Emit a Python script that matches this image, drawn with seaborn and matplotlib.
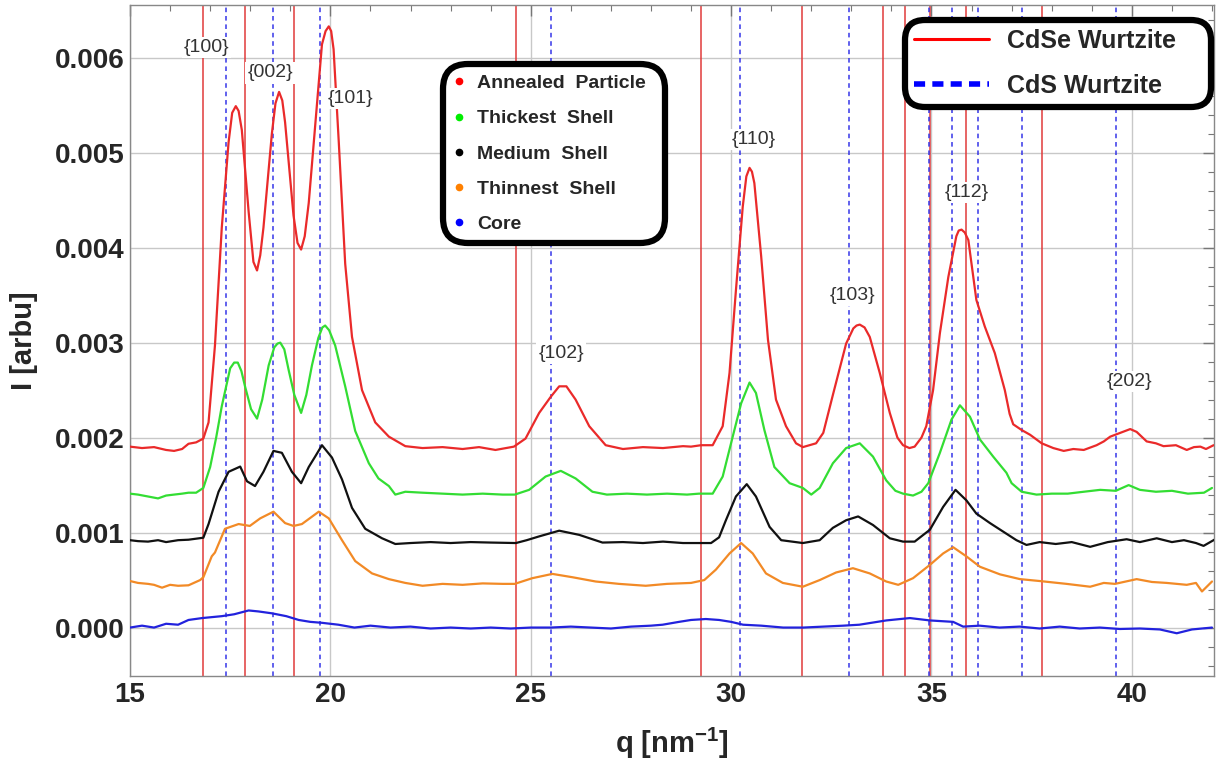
import numpy as np
import pandas as pd
import matplotlib
matplotlib.use("Agg")
import matplotlib.pyplot as plt
import seaborn as sns
from matplotlib.lines import Line2D
from matplotlib.ticker import MultipleLocator

# ---------------- data (I values in units of 1e-3 arbu) ----------------
I_UNIT = 1e-3

annealed_q = [15.0, 15.3, 15.6, 15.9, 16.1, 16.3, 16.46, 16.65, 16.83, 16.96, 17.12, 17.29, 17.46, 17.55,
              17.64, 17.71, 17.79, 17.96, 18.08, 18.17, 18.25, 18.33, 18.54, 18.63, 18.72, 18.80, 18.87,
              19.08, 19.18, 19.27, 19.36, 19.46, 19.67, 19.79, 19.88, 19.96, 20.02, 20.08, 20.21, 20.37,
              20.54, 20.79, 21.12, 21.46, 21.87, 22.3, 22.8, 23.3, 23.71, 24.12,
              24.58, 24.87, 25.21, 25.5, 25.71, 25.89, 26.12, 26.46, 26.87, 27.3, 27.8, 28.3, 28.8, 29.0,
              29.25, 29.54, 29.79, 29.96, 30.12, 30.29, 30.38, 30.46, 30.52, 30.58, 30.75, 30.92, 31.12,
              31.37, 31.62, 31.79, 32.12, 32.3, 32.54, 32.87, 33.05, 33.13, 33.21, 33.33, 33.46, 33.71,
              33.96, 34.15, 34.29, 34.45, 34.58, 34.75, 34.87, 35.04, 35.21, 35.42, 35.62, 35.68, 35.75,
              35.83, 35.92, 36.12, 36.33, 36.58, 36.83, 36.95, 37.04, 37.25, 37.46, 37.75, 38.04, 38.3,
              38.54, 38.8, 39.12, 39.3, 39.46, 39.71, 39.96, 40.12, 40.37, 40.6, 40.79, 41.1, 41.37,
              41.55, 41.71, 41.85, 42.04]
annealed_I = [1.905, 1.89, 1.90, 1.87, 1.86, 1.88, 1.935, 1.95, 1.99, 2.16, 2.97, 4.21, 5.11, 5.42,
              5.49, 5.44, 5.24, 4.38, 3.85, 3.76, 3.92, 4.21, 5.20, 5.52, 5.64, 5.55, 5.32,
              4.34, 4.05, 3.98, 4.12, 4.47, 5.54, 6.14, 6.28, 6.33, 6.28, 6.09, 5.11, 3.83,
              3.06, 2.50, 2.16, 2.01, 1.91, 1.89, 1.90, 1.88, 1.90, 1.87,
              1.905, 1.99, 2.26, 2.43, 2.54, 2.54, 2.40, 2.12, 1.92, 1.88, 1.90, 1.89, 1.91, 1.905,
              1.92, 1.92, 2.12, 2.68, 3.55, 4.43, 4.75, 4.84, 4.80, 4.68, 3.91, 3.03, 2.40,
              2.12, 1.94, 1.90, 1.94, 2.05, 2.45, 2.99, 3.15, 3.18, 3.19, 3.16, 3.06, 2.68,
              2.26, 2.00, 1.92, 1.89, 1.905, 2.00, 2.12, 2.50, 3.10, 3.69, 4.12, 4.18, 4.19,
              4.16, 4.08, 3.45, 3.17, 2.89, 2.50, 2.25, 2.14, 2.08, 2.03, 1.94, 1.89, 1.86,
              1.88, 1.87, 1.92, 1.96, 2.01, 2.05, 2.09, 2.06, 1.96, 1.94, 1.91, 1.92, 1.87,
              1.90, 1.905, 1.88, 1.92]

thickest_q = [15.0, 15.2, 15.45, 15.7, 15.9, 16.1, 16.3, 16.46, 16.65, 16.83, 17.0, 17.15, 17.29, 17.5,
              17.6, 17.69, 17.78, 17.87, 18.02, 18.17, 18.3, 18.46, 18.6, 18.68, 18.75, 18.85, 18.96,
              19.1, 19.27, 19.4, 19.54, 19.7, 19.8, 19.87, 19.97, 20.12, 20.37, 20.62, 20.96, 21.2,
              21.46, 21.62, 21.87, 22.3, 22.8, 23.3,
              23.8, 24.3, 24.6, 24.96, 25.37, 25.75, 26.12, 26.54, 26.9, 27.4, 27.9, 28.4, 28.9, 29.2,
              29.54, 29.79, 30.04, 30.25, 30.46, 30.62, 30.83, 31.08, 31.46, 31.79, 32.0, 32.21, 32.54,
              32.87, 33.21, 33.54, 33.87, 34.1, 34.29, 34.54, 34.75, 34.92, 35.21, 35.5, 35.71, 35.96,
              36.21, 36.54, 36.87, 37.0, 37.25, 37.62, 38.0, 38.4, 38.8, 39.21, 39.6, 39.92, 40.2,
              40.6, 41.0, 41.4, 41.8, 42.0]
thickest_I = [1.41, 1.40, 1.38, 1.36, 1.39, 1.40, 1.41, 1.42, 1.42, 1.47, 1.69, 2.00, 2.33, 2.73,
              2.79, 2.79, 2.70, 2.54, 2.30, 2.20, 2.40, 2.76, 2.95, 2.99, 3.00, 2.93, 2.71,
              2.45, 2.26, 2.45, 2.76, 3.05, 3.16, 3.18, 3.13, 2.97, 2.54, 2.07, 1.73, 1.57,
              1.49, 1.40, 1.43, 1.42, 1.41, 1.40,
              1.41, 1.40, 1.40, 1.45, 1.59, 1.65, 1.57, 1.43, 1.40, 1.41, 1.40, 1.41, 1.40, 1.41,
              1.41, 1.59, 2.01, 2.36, 2.58, 2.47, 2.08, 1.69, 1.52, 1.47, 1.40, 1.47, 1.73,
              1.89, 1.94, 1.80, 1.55, 1.44, 1.41, 1.39, 1.43, 1.52, 1.84, 2.19, 2.34, 2.22,
              1.98, 1.80, 1.63, 1.52, 1.43, 1.40, 1.41, 1.41, 1.43, 1.45, 1.44, 1.50, 1.45,
              1.43, 1.44, 1.41, 1.42, 1.47]

medium_q = [15.0, 15.2, 15.45, 15.7, 15.9, 16.2, 16.46, 16.83, 16.96, 17.21, 17.46, 17.75, 17.92, 18.12,
            18.33, 18.58, 18.79, 19.04, 19.27, 19.46, 19.62, 19.79, 20.04, 20.29, 20.54, 20.87, 21.29,
            21.62, 22.0, 22.5, 23.0, 23.5, 24.0, 24.63, 24.9, 25.21, 25.71, 26.21, 26.79, 27.3, 27.8,
            28.3, 28.8, 29.5, 29.7, 29.87, 30.12, 30.39, 30.62, 30.96, 31.25, 31.79, 32.21, 32.54,
            32.87, 33.17, 33.54, 33.96, 34.29, 34.58, 34.96, 35.29, 35.6, 35.87, 36.12, 36.46, 36.79,
            37.12, 37.37, 37.7, 38.1, 38.5, 38.96, 39.4, 39.87, 40.2, 40.62, 41.0, 41.3, 41.6, 41.79,
            42.08]
medium_I = [0.92, 0.91, 0.905, 0.92, 0.90, 0.92, 0.925, 0.946, 1.09, 1.43, 1.64, 1.695, 1.54, 1.49,
            1.64, 1.86, 1.84, 1.64, 1.52, 1.69, 1.80, 1.92, 1.79, 1.56, 1.26, 1.04, 0.94,
            0.88, 0.89, 0.90, 0.89, 0.90, 0.895, 0.89, 0.92, 0.96, 1.02, 0.976, 0.895, 0.90, 0.89,
            0.905, 0.89, 0.89, 0.95, 1.13, 1.38, 1.51, 1.38, 1.06, 0.92, 0.89, 0.92, 1.05,
            1.13, 1.17, 1.08, 0.94, 0.905, 0.905, 1.03, 1.27, 1.45, 1.34, 1.20, 1.10, 1.01,
            0.92, 0.87, 0.90, 0.88, 0.90, 0.85, 0.90, 0.93, 0.90, 0.94, 0.90, 0.92, 0.89, 0.86,
            0.93]

thinnest_q = [15.0, 15.2, 15.45, 15.6, 15.8, 16.0, 16.2, 16.46, 16.75, 16.83, 17.04, 17.12, 17.37, 17.71,
              17.99, 18.25, 18.58, 18.87, 19.08, 19.29, 19.71, 19.96, 20.29, 20.62, 21.04, 21.46, 21.87,
              22.3, 22.8, 23.3, 23.8, 24.3, 24.6, 25.04, 25.54, 26.04, 26.62, 27.2, 27.87, 28.4, 29.0,
              29.33, 29.62, 29.96, 30.25, 30.54, 30.87, 31.29, 31.79, 32.21, 32.62, 33.04, 33.46, 33.87,
              34.17, 34.54, 34.96, 35.29, 35.54, 35.87, 36.21, 36.71, 37.21, 37.7, 38.37, 38.96, 39.3,
              39.58, 40.12, 40.5, 40.87, 41.37, 41.6, 41.75, 42.0]
thinnest_I = [0.49, 0.47, 0.46, 0.45, 0.42, 0.45, 0.44, 0.445, 0.50, 0.53, 0.75, 0.79, 1.04, 1.09,
              1.07, 1.15, 1.22, 1.10, 1.07, 1.09, 1.22, 1.15, 0.92, 0.70, 0.57, 0.51, 0.47,
              0.44, 0.46, 0.45, 0.465, 0.46, 0.46, 0.52, 0.565, 0.53, 0.485, 0.46, 0.44, 0.46, 0.47,
              0.50, 0.61, 0.78, 0.89, 0.78, 0.57, 0.47, 0.43, 0.50, 0.58, 0.625, 0.57, 0.485,
              0.45, 0.52, 0.66, 0.78, 0.846, 0.75, 0.64, 0.56, 0.51, 0.49, 0.46, 0.43, 0.47,
              0.46, 0.51, 0.48, 0.47, 0.45, 0.47, 0.38, 0.485]

core_q = [15.0, 15.3, 15.6, 15.9, 16.2, 16.46, 16.8, 17.29, 17.6, 17.96, 18.2, 18.54, 18.9, 19.21, 19.5,
          19.79, 20.2, 20.6, 21.0, 21.5, 22.0, 22.5, 23.0, 23.5, 24.0, 24.5, 25.0, 25.5, 26.0, 26.5,
          27.0, 27.5, 28.0, 28.29, 28.7, 29.0, 29.37, 29.7, 30.0, 30.3, 30.75, 31.3, 31.8, 32.3, 32.8,
          33.2, 33.87, 34.46, 34.96, 35.54, 35.79, 36.2, 36.7, 37.2, 37.7, 38.2, 38.7, 39.2, 39.7,
          40.2, 40.7, 41.12, 41.5, 42.0]
core_I = [0.0, 0.02, 0.0, 0.04, 0.03, 0.08, 0.10, 0.12, 0.14, 0.18, 0.17, 0.15, 0.12, 0.08, 0.06,
          0.05, 0.03, 0.0, 0.02, 0.0, 0.01, -0.01, 0.0, -0.01, 0.0, -0.01, 0.0, 0.0, 0.01, 0.0,
          -0.01, 0.01, 0.02, 0.03, 0.06, 0.08, 0.09, 0.08, 0.06, 0.03, 0.02, 0.0, 0.0, 0.01, 0.02,
          0.03, 0.075, 0.10, 0.075, 0.06, 0.01, 0.02, 0.0, 0.01, -0.01, 0.01, -0.01, 0.0, -0.015,
          -0.01, -0.02, -0.06, -0.02, 0.0]

series_names = ["Annealed  Particle", "Thickest  Shell", "Medium  Shell", "Thinnest  Shell", "Core"]
series_colors = ["#ea2a2a", "#33dd33", "#111111", "#f28a26", "#2222dd"]
legend_marker_colors = ["#ff0000", "#00ee00", "#000000", "#ff8000", "#0000ff"]

cdse_q = [16.83, 17.87, 19.08, 24.63, 29.25, 31.77, 33.79, 34.33, 34.96, 35.87, 37.77]
cds_q = [17.40, 18.58, 19.75, 25.50, 30.23, 32.93, 34.94, 35.52, 36.15, 37.25, 39.61]
reference_names = ["CdSe Wurtzite", "CdS Wurtzite"]

peak_labels = ["{100}", "{002}", "{101}", "{102}", "{110}", "{103}", "{112}", "{202}"]
peak_label_q = [16.91, 18.50, 20.51, 25.76, 30.56, 33.04, 35.89, 39.94]
peak_label_I = [6.11, 5.84, 5.57, 2.89, 5.14, 3.50, 4.58, 2.59]

x_ticks = [15, 20, 25, 30, 35, 40]
y_ticks = [0.000, 0.001, 0.002, 0.003, 0.004, 0.005, 0.006]
y_tick_labels = ["0.000", "0.001", "0.002", "0.003", "0.004", "0.005", "0.006"]

# ---------------- figure ----------------
sns.set_theme(style="white")
plt.rcParams['font.family'] = ['Liberation Sans', 'DejaVu Sans']
plt.rcParams['mathtext.fontset'] = 'custom'
plt.rcParams['mathtext.rm'] = 'Liberation Sans:bold'
plt.rcParams['mathtext.bf'] = 'Liberation Sans:bold'
plt.rcParams['mathtext.it'] = 'Liberation Sans:bold'

W, H = 1216, 762
fig = plt.figure(figsize=(W / 100, H / 100), dpi=100)
ax = fig.add_axes([130 / W, 86 / H, (1214 - 130) / W, (757 - 86) / H])

frames = []
for name, q, I in zip(series_names,
                      [annealed_q, thickest_q, medium_q, thinnest_q, core_q],
                      [annealed_I, thickest_I, medium_I, thinnest_I, core_I]):
    frames.append(pd.DataFrame({"q": q, "I": np.asarray(I) * I_UNIT, "series": name}))
df = pd.concat(frames, ignore_index=True)

sns.lineplot(data=df, x="q", y="I", hue="series", hue_order=series_names,
             palette=dict(zip(series_names, series_colors)), sort=False, estimator=None,
             linewidth=1.6, legend=False, ax=ax, zorder=3)

for q in cdse_q:
    ax.axvline(q, color="#e03a3a", lw=1.1, zorder=2)
for q in cds_q:
    ax.axvline(q, color="#3535e8", lw=1.1, ls=(0, (3, 2.5)), zorder=2)

for lab, q, I in zip(peak_labels, peak_label_q, peak_label_I):
    ax.text(q, I * I_UNIT, lab, ha="center", va="center", fontsize=14, color="#333333",
            bbox=dict(facecolor="white", edgecolor="none", pad=1.5), zorder=6)

ax.set_xlim(15, 42.05)
ax.set_ylim(-0.00051, 0.006555)
ax.set_xticks(x_ticks)
ax.set_xticklabels([str(t) for t in x_ticks])
ax.set_yticks(y_ticks)
ax.set_yticklabels(y_tick_labels)
ax.xaxis.set_minor_locator(MultipleLocator(1))
ax.yaxis.set_minor_locator(MultipleLocator(0.0002))
ax.tick_params(which="both", direction="in", top=True, right=True, color="#777777")
ax.tick_params(which="major", length=8, width=1, labelsize=20, pad=4)
ax.tick_params(which="minor", length=4, width=0.8)
for lbl in ax.get_xticklabels() + ax.get_yticklabels():
    lbl.set_fontweight("bold")
ax.grid(True, which="major", color="#c8c8c8", lw=1)
ax.set_axisbelow(True)
for s in ax.spines.values():
    s.set_color("#888888")
    s.set_linewidth(1)

ax.set_xlabel(r"q [nm$^{-1}$]", fontsize=21, fontweight="bold", labelpad=13)
ax.set_ylabel("I [arbu]", fontsize=21, fontweight="bold", labelpad=12)

# legend of series
BH = 0.01
h1 = [Line2D([], [], ls="", marker="o", ms=4.5, color=c) for c in legend_marker_colors]
leg1 = ax.legend(h1, series_names, loc="upper left",
                 bbox_to_anchor=(443 / W, 1 - 64 / H - BH, 222 / W, BH),
                 bbox_transform=fig.transFigure, mode="expand", prop={"weight": "bold", "size": 14},
                 frameon=True, framealpha=1, edgecolor="black", fancybox=True,
                 borderpad=0.55, labelspacing=0.9, handlelength=0.5, handletextpad=0.7,
                 borderaxespad=0)
leg1.get_frame().set_linewidth(4.5)
leg1.get_frame().set_boxstyle("round", pad=0, rounding_size=1.3)
leg1.set_zorder(10)
ax.add_artist(leg1)

# legend of reference lines
h2 = [Line2D([], [], color="#ff0000", lw=2.2),
      Line2D([], [], color="#0000ff", lw=4, ls=(0, (2, 1.3)))]
leg2 = ax.legend(h2, reference_names, loc="upper left",
                 bbox_to_anchor=(905 / W, 1 - 20 / H - BH, 306 / W, BH),
                 bbox_transform=fig.transFigure, mode="expand", prop={"weight": "bold", "size": 18},
                 frameon=True, framealpha=1, edgecolor="black", fancybox=True,
                 borderpad=0.35, labelspacing=0.85, handlelength=3.0, handletextpad=0.75,
                 borderaxespad=0)
leg2.get_frame().set_linewidth(4.5)
leg2.get_frame().set_boxstyle("round", pad=0, rounding_size=0.8)
leg2.set_zorder(10)

fig.savefig("out.png", dpi=100)
